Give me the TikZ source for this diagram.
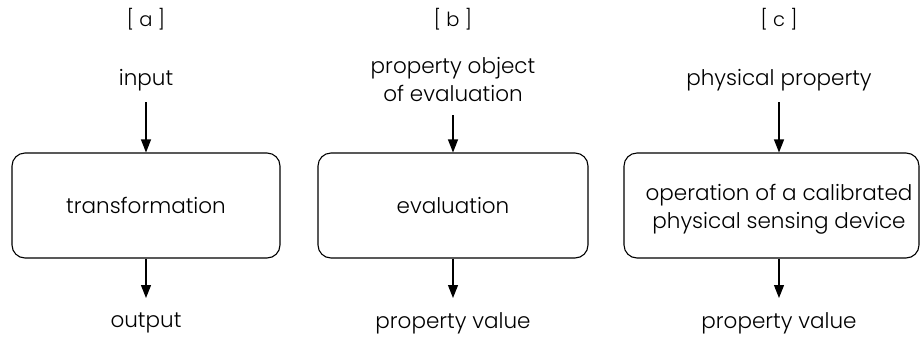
\documentclass[tikz,border=0pt]{standalone}
\usepackage{fontspec}
\setmainfont{Poppins}[UprightFont=* Light]
\usetikzlibrary{arrows.meta}
\tikzset{
  box/.style={draw, line width=1.1pt, rounded corners=13pt, inner sep=0pt},
  lbl/.style={font=\fontsize{21.5}{28}\selectfont, align=center, inner sep=0pt},
  tag/.style={font=\fontsize{19.5}{22}\selectfont, inner sep=0pt},
  arr/.style={line width=1.1pt, -{Triangle[width=10pt,length=13pt]}}
}
\begin{document}
\begin{tikzpicture}[x=1pt,y=-1pt]
\useasboundingbox (0,0) rectangle (920,341);
% column a
\node[tag] (ta) at (146,19) {[ a ]};
\node[lbl] (ina) at (146,80) {input};
\node[box, minimum width=268pt, minimum height=105pt] (ba) at (146,205.5) {};
\node[lbl] at (ba.center) {transformation};
\node[lbl] (outa) at (146,323) {output};
\coordinate (a1) at (146,102);
\coordinate (a2) at (146,298);
\draw[arr] (a1) -- (ba.north);
\draw[arr] (ba.south) -- (a2);
% column b
\node[tag] (tb) at (453,19) {[ b ]};
\node[lbl] (inb) at (453,80) {property object\\of evaluation};
\node[box, minimum width=270pt, minimum height=105pt] (bb) at (453,205.5) {};
\node[lbl] at (bb.center) {evaluation};
\node[lbl] (outb) at (453,323) {property value};
\coordinate (b1) at (453,115);
\coordinate (b2) at (453,298);
\draw[arr] (b1) -- (bb.north);
\draw[arr] (bb.south) -- (b2);
% column c
\node[tag] (tc) at (779,19) {[ c ]};
\node[lbl] (inc) at (779,80) {physical property};
\node[box, minimum width=295pt, minimum height=105pt] (bc) at (771.5,205.5) {};
\node[lbl] at (779,209.5) {operation of a calibrated\\physical sensing device};
\node[lbl] (outc) at (779,323) {property value};
\coordinate (c1) at (779,102);
\coordinate (c2) at (779,298);
\draw[arr] (c1) -- (c1 |- bc.north);
\draw[arr] (c2 |- bc.south) -- (c2);
\end{tikzpicture}
\end{document}
